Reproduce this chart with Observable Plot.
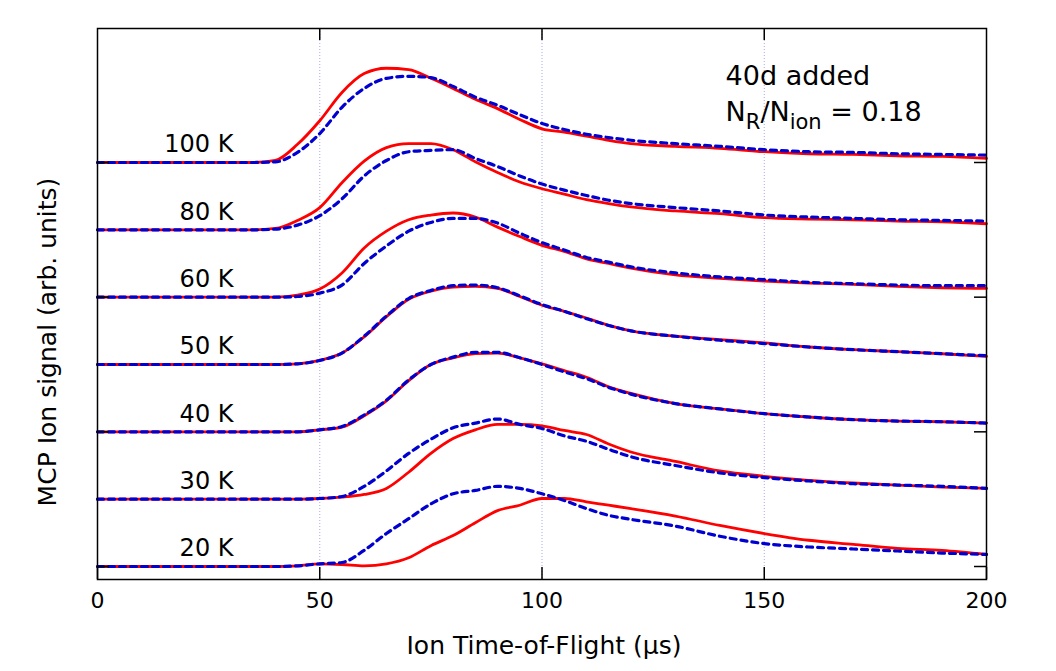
<!DOCTYPE html>
<html>
<head>
<meta charset="utf-8">
<script src="https://cdn.jsdelivr.net/npm/d3@7"></script>
<script src="https://cdn.jsdelivr.net/npm/@observablehq/plot@0.6"></script>
<style>
  html, body { margin: 0; padding: 0; background: #fff; }
  #chart { width: 1056px; height: 671px; }
</style>
</head>
<body>
<div id="chart"></div>
<script>
// ---- data (arbitrary units; each trace offset by one unit) ----
const times = [0, 35, 40, 45, 50, 55, 60, 65, 70, 75, 80, 85, 90, 95, 100, 105, 110, 115, 120, 130, 140, 150, 160, 170, 180, 190, 200];

const temperatures = ["20 K", "30 K", "40 K", "50 K", "60 K", "80 K", "100 K"];

// red solid traces
const red20  = [0, 0, 0, 0.01, 0.04, 0.03, 0.01, 0.04, 0.13, 0.31, 0.46, 0.65, 0.83, 0.91, 1.01, 1.01, 0.96, 0.91, 0.86, 0.75, 0.61, 0.49, 0.39, 0.33, 0.27, 0.24, 0.18];
const red30  = [0, 0, 0, 0, 0.01, 0.03, 0.07, 0.16, 0.40, 0.68, 0.90, 1.03, 1.11, 1.11, 1.09, 1.02, 0.96, 0.82, 0.70, 0.56, 0.42, 0.34, 0.28, 0.24, 0.21, 0.18, 0.16];
const red40  = [0, 0, 0, 0, 0.03, 0.07, 0.24, 0.46, 0.76, 1.00, 1.10, 1.16, 1.17, 1.10, 1.01, 0.91, 0.81, 0.67, 0.57, 0.42, 0.34, 0.27, 0.22, 0.18, 0.16, 0.15, 0.13];
const red50  = [0, 0, 0, 0.01, 0.06, 0.17, 0.41, 0.71, 0.97, 1.09, 1.15, 1.16, 1.13, 1.01, 0.88, 0.79, 0.69, 0.58, 0.50, 0.42, 0.37, 0.32, 0.26, 0.22, 0.19, 0.16, 0.12];
const red60  = [0, 0, 0, 0.03, 0.12, 0.36, 0.73, 0.98, 1.15, 1.22, 1.25, 1.19, 1.04, 0.90, 0.77, 0.68, 0.57, 0.50, 0.43, 0.33, 0.28, 0.24, 0.21, 0.19, 0.16, 0.14, 0.13];
const red80  = [0, 0, 0.02, 0.14, 0.33, 0.70, 1.02, 1.22, 1.28, 1.28, 1.19, 1.01, 0.85, 0.71, 0.61, 0.53, 0.45, 0.39, 0.34, 0.28, 0.24, 0.18, 0.16, 0.15, 0.13, 0.12, 0.09];
const red100 = [0, 0, 0.03, 0.27, 0.62, 1.04, 1.32, 1.40, 1.38, 1.25, 1.10, 0.94, 0.80, 0.64, 0.50, 0.45, 0.39, 0.33, 0.28, 0.24, 0.21, 0.16, 0.13, 0.12, 0.10, 0.09, 0.06];

// blue dashed traces
const blue20  = [0, 0, 0, 0.01, 0.04, 0.06, 0.24, 0.49, 0.71, 0.93, 1.08, 1.13, 1.19, 1.16, 1.08, 0.98, 0.86, 0.76, 0.70, 0.60, 0.45, 0.34, 0.29, 0.26, 0.23, 0.20, 0.18];
const blue30  = [0, 0, 0, 0, 0.01, 0.04, 0.19, 0.42, 0.68, 0.89, 1.06, 1.13, 1.19, 1.11, 1.05, 0.94, 0.86, 0.74, 0.63, 0.50, 0.39, 0.32, 0.27, 0.23, 0.21, 0.19, 0.16];
const blue40  = [0, 0, 0, 0, 0.03, 0.08, 0.25, 0.47, 0.77, 1.00, 1.11, 1.18, 1.18, 1.10, 1.00, 0.89, 0.79, 0.66, 0.56, 0.42, 0.34, 0.27, 0.22, 0.18, 0.16, 0.15, 0.13];
const blue50  = [0, 0, 0, 0.01, 0.06, 0.17, 0.42, 0.72, 0.98, 1.10, 1.17, 1.18, 1.14, 1.02, 0.89, 0.79, 0.68, 0.58, 0.50, 0.42, 0.36, 0.31, 0.26, 0.22, 0.19, 0.16, 0.13];
const blue60  = [0, 0, 0, 0.01, 0.06, 0.18, 0.50, 0.76, 0.98, 1.11, 1.17, 1.17, 1.10, 0.95, 0.81, 0.70, 0.59, 0.52, 0.45, 0.36, 0.30, 0.26, 0.22, 0.20, 0.18, 0.17, 0.17];
const blue80  = [0, 0, 0.01, 0.07, 0.21, 0.46, 0.80, 1.03, 1.16, 1.18, 1.19, 1.06, 0.94, 0.80, 0.68, 0.59, 0.51, 0.44, 0.39, 0.33, 0.28, 0.22, 0.19, 0.17, 0.15, 0.14, 0.13];
const blue100 = [0, 0, 0.01, 0.15, 0.43, 0.82, 1.10, 1.25, 1.28, 1.26, 1.13, 0.97, 0.85, 0.71, 0.58, 0.49, 0.42, 0.37, 0.33, 0.28, 0.24, 0.19, 0.16, 0.15, 0.13, 0.12, 0.11];

const redSeries  = [red20, red30, red40, red50, red60, red80, red100];
const blueSeries = [blue20, blue30, blue40, blue50, blue60, blue80, blue100];

const xTicks = [0, 50, 100, 150, 200];
const xGrid = [50, 100, 150];
const yTicks = [0, 2, 4, 6];

const annotations = ["40d added", "N_R/N_ion = 0.18"];

// ---- build tables ----
function rows(series) {
  const out = [];
  series.forEach((vals, i) => {
    vals.forEach((v, j) => out.push({t: times[j], y: i + v, temp: temperatures[i]}));
  });
  return out;
}
const redRows = rows(redSeries);
const blueRows = rows(blueSeries);
const labelRows = temperatures.map((name, i) => ({name, offset: i}));

// ---- layout ----
const W = 1056, H = 671;
const mL = 97, mR = 70, mT = 28, mB = 92;
const plotW = W - mL - mR, plotH = H - mT - mB;
const tickLen = 12;
const font = "DejaVu Sans";

const chart = Plot.plot({
  width: W,
  height: H,
  marginLeft: mL,
  marginRight: mR,
  marginTop: mT,
  marginBottom: mB,
  style: {fontFamily: font, fontSize: "22px", background: "#fff", color: "#000"},
  x: {domain: [0, 200], axis: null},
  y: {domain: [-0.193, 7.99], axis: null},
  marks: [
    Plot.ruleX(xGrid, {x: d => d, stroke: "#a8a8f0", strokeWidth: 1, strokeDasharray: "1,2"}),
    Plot.line(redRows, {x: "t", y: "y", z: "temp", stroke: "#ff0000", strokeWidth: 2.8, curve: "monotone-x"}),
    Plot.line(blueRows, {x: "t", y: "y", z: "temp", stroke: "#0000d0", strokeWidth: 3.2, strokeDasharray: "6,5", curve: "monotone-x"}),
    // inward ticks
    Plot.tickX(xTicks, {x: d => d, insetTop: plotH - tickLen, stroke: "#000", strokeWidth: 1.5}),
    Plot.tickX(xGrid, {x: d => d, insetBottom: plotH - tickLen, stroke: "#000", strokeWidth: 1.5}),
    Plot.tickY(yTicks, {y: d => d, insetLeft: plotW - tickLen, stroke: "#000", strokeWidth: 1.5}),
    Plot.tickY(yTicks, {y: d => d, insetRight: plotW - tickLen, stroke: "#000", strokeWidth: 1.5}),
    Plot.frame({stroke: "#000", strokeWidth: 1.5}),
    // tick labels
    Plot.text(xTicks, {x: d => d, text: d => String(d), frameAnchor: "bottom", lineAnchor: "top", dy: 13, fontSize: 22, fill: "#000"}),
    // trace labels
    Plot.text(labelRows, {x: () => 30.6, y: d => d.offset + 0.15, text: "name", textAnchor: "end", lineAnchor: "bottom", fontSize: 24, fill: "#000"}),
    // annotation
    Plot.text(annotations, {x: () => 141.3, y: (d, i) => (i === 0 ? 7.144 : 6.609), text: d => d, textAnchor: "start", lineAnchor: "bottom", fontSize: 27, fill: "#000"}),
    // axis titles
    Plot.text(["Ion Time-of-Flight (µs)"], {frameAnchor: "bottom", text: d => d, textAnchor: "middle", lineAnchor: "bottom", dy: 74, dx: 2, fontSize: 25, fill: "#000"}),
    Plot.text(["MCP Ion signal (arb. units)"], {frameAnchor: "left", text: d => d, rotate: -90, textAnchor: "middle", lineAnchor: "bottom", dx: -42, dy: 38, fontSize: 25, fill: "#000"})
  ]
});

// subscripts in the annotation
d3.select(chart).selectAll("text").each(function () {
  if (this.textContent === "N_R/N_ion = 0.18") {
    const t = d3.select(this);
    t.text(null);
    t.append("tspan").text("N");
    t.append("tspan").attr("font-size", 21).attr("dy", 8).text("R");
    t.append("tspan").attr("dy", -8).text("/N");
    t.append("tspan").attr("font-size", 21).attr("dy", 8).text("ion");
    t.append("tspan").attr("dy", -8).text(" = 0.18");
  }
});

document.getElementById("chart").appendChild(chart);
</script>
</body>
</html>
